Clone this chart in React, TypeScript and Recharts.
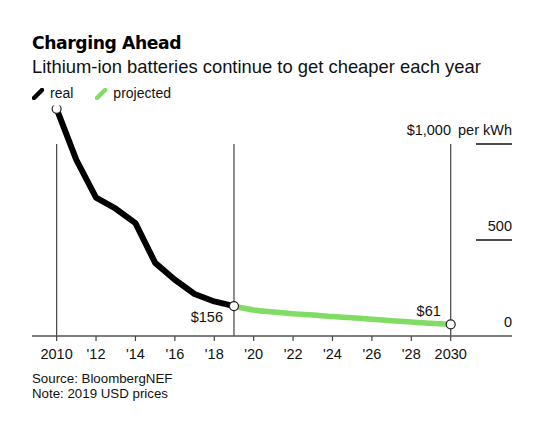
import React from 'react';
import { LineChart, Line, XAxis, YAxis, ReferenceLine } from 'recharts';

const years = [2010, 2011, 2012, 2013, 2014, 2015, 2016, 2017, 2018, 2019, 2020, 2021, 2022, 2023, 2024, 2025, 2026, 2027, 2028, 2029, 2030];
const realPrices = [1183, 917, 721, 663, 588, 381, 293, 219, 180, 156];
const projectedPrices = [156, 135, 125, 116, 109, 101, 95, 87, 80, 73, 66, 61];
const xTicks = [2010, 2012, 2014, 2016, 2018, 2020, 2022, 2024, 2026, 2028, 2030];
const xTickLabels = ['2010', "'12", "'14", "'16", "'18", "'20", "'22", "'24", "'26", "'28", '2030'];
const yTicks = [0, 500, 1000];
const yTickLabels = ['0', '500', '$1,000'];
const markerYears = [2010, 2019, 2030];

const FONT = '"Liberation Sans", Arial, Helvetica, sans-serif';
const REAL_COLOR = '#000000';
const PROJ_COLOR = '#80DC63';
const AXIS_FS = 14.5;

const data = years.map((year, i) => ({
  year,
  real: i < realPrices.length ? realPrices[i] : null,
  projected: i >= realPrices.length - 1 ? projectedPrices[i - (realPrices.length - 1)] : null,
}));

const XTick = (props: any) => {
  const { x, y, payload } = props;
  const idx = xTicks.indexOf(payload.value);
  return (
    <text x={x} y={y + 16} textAnchor="middle" fontFamily={FONT} fontSize={AXIS_FS} fill="#111">
      {xTickLabels[idx]}
    </text>
  );
};

const YTick = (props: any) => {
  const { y, payload } = props;
  const idx = yTicks.indexOf(payload.value);
  const right = 512;
  return (
    <g>
      {payload.value !== 0 && (
        <line x1={right - 36} x2={right} y1={y} y2={y} stroke="#111" strokeWidth={1.3} />
      )}
      {payload.value === 1000 ? (
        <>
          <text x={451} y={y - 9} textAnchor="end" fontFamily={FONT} fontSize={AXIS_FS} fill="#111">
            {yTickLabels[idx]}
          </text>
          <text x={right} y={y - 9} textAnchor="end" fontFamily={FONT} fontSize={AXIS_FS} fill="#111">
            per kWh
          </text>
        </>
      ) : (
        <text x={right} y={y - 9} textAnchor="end" fontFamily={FONT} fontSize={AXIS_FS} fill="#111">
          {yTickLabels[idx]}
        </text>
      )}
    </g>
  );
};

const makeDot = (which: 'real' | 'projected') => (props: any) => {
  const { cx, cy, payload, index } = props;
  const key = `${which}-${index}`;
  if (cx == null || cy == null || payload[which] == null) return <g key={key} />;
  const show = which === 'real' ? payload.year === 2010 : payload.year === 2019 || payload.year === 2030;
  if (!show) return <g key={key} />;
  return (
    <g key={key}>
      <circle cx={cx} cy={cy} r={4.5} fill="#fff" stroke="#222" strokeWidth={1.2} />
      {which === 'projected' && payload.year === 2019 && (
        <text x={cx - 11} y={cy + 16} textAnchor="end" fontFamily={FONT} fontSize={AXIS_FS} fill="#111">
          ${payload.projected}
        </text>
      )}
      {which === 'projected' && payload.year === 2030 && (
        <text x={cx - 22} y={cy - 8} textAnchor="middle" fontFamily={FONT} fontSize={AXIS_FS} fill="#111">
          ${payload.projected}
        </text>
      )}
    </g>
  );
};

const LegendIcon = ({ color }: { color: string }) => (
  <svg width={12} height={12} style={{ display: 'inline-block', verticalAlign: 'middle' }}>
    <line x1={2} y1={10} x2={10} y2={2} stroke={color} strokeWidth={4.5} strokeLinecap="round" />
  </svg>
);

export default function App() {
  return (
    <div style={{ position: 'absolute', left: 0, top: 0, width: 538, height: 431, background: '#fff', fontFamily: FONT }}>
      <div style={{ position: 'absolute', left: 32, top: 33, fontFamily: '"DejaVu Sans", sans-serif', fontWeight: 700, fontSize: 17.2, letterSpacing: -0.4, lineHeight: '20px', color: '#000', whiteSpace: 'nowrap' }}>
        Charging Ahead
      </div>
      <div style={{ position: 'absolute', left: 32, top: 56, fontSize: 18.4, lineHeight: '22px', color: '#111', whiteSpace: 'nowrap' }}>
        Lithium-ion batteries continue to get cheaper each year
      </div>
      <div style={{ position: 'absolute', left: 32, top: 84, fontSize: 14, lineHeight: '18px', color: '#111', whiteSpace: 'nowrap' }}>
        <LegendIcon color={REAL_COLOR} />
        <span style={{ marginLeft: 6 }}>real</span>
        <span style={{ marginLeft: 22 }}><LegendIcon color={PROJ_COLOR} /></span>
        <span style={{ marginLeft: 6 }}>projected</span>
      </div>
      <div style={{ position: 'absolute', left: 0, top: 0 }}>
        <LineChart width={538} height={431} data={data} margin={{ top: 105.6, right: 0, bottom: 65, left: 32 }}>
          <XAxis
            dataKey="year"
            type="number"
            domain={[2008.75, 2033.11]}
            allowDataOverflow
            ticks={xTicks}
            interval={0}
            tick={<XTick />}
            tickSize={5}
            tickLine={{ stroke: '#444', strokeWidth: 1.2 }}
            axisLine={{ stroke: '#555', strokeWidth: 1.5 }}
            height={30}
          />
          <YAxis
            orientation="right"
            type="number"
            domain={[0, 1200]}
            allowDataOverflow
            ticks={yTicks}
            interval={0}
            tick={<YTick />}
            axisLine={false}
            tickLine={false}
            width={26}
          />
          {markerYears.map((yr) => (
            <ReferenceLine
              key={yr}
              segment={[{ x: yr, y: 0 }, { x: yr, y: 1000 }]}
              stroke="#444"
              strokeWidth={1.2}
              ifOverflow="visible"
            />
          ))}
          <Line
            type="linear"
            dataKey="real"
            stroke={REAL_COLOR}
            strokeWidth={6}
            strokeLinejoin="round"
            dot={makeDot('real')}
            activeDot={false}
            connectNulls={false}
            isAnimationActive={false}
          />
          <Line
            type="monotone"
            dataKey="projected"
            stroke={PROJ_COLOR}
            strokeWidth={5.5}
            dot={makeDot('projected')}
            activeDot={false}
            connectNulls={false}
            isAnimationActive={false}
          />
        </LineChart>
      </div>
      <div style={{ position: 'absolute', left: 32, top: 371, fontSize: 13.3, lineHeight: '15px', color: '#111', whiteSpace: 'nowrap' }}>
        Source: BloombergNEF
        <br />
        Note: 2019 USD prices
      </div>
    </div>
  );
}
